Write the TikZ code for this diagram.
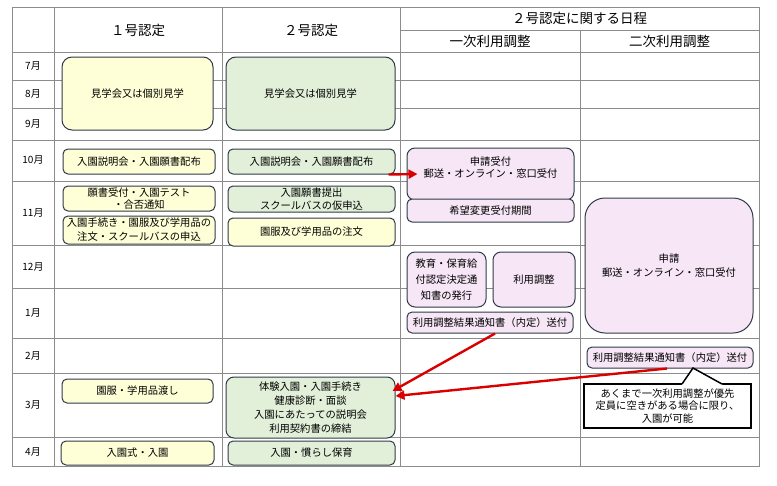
\documentclass[tikz,border=0pt]{standalone}
\usepackage{fontspec}
\setmainfont{Noto Sans CJK JP}
\usetikzlibrary{positioning,arrows.meta}

\definecolor{yel}{RGB}{255,255,215}
\definecolor{grn}{RGB}{226,240,217}
\definecolor{pnk}{RGB}{246,230,246}
\definecolor{edge}{RGB}{47,58,72}
\definecolor{rule}{RGB}{140,140,140}
\definecolor{arr}{RGB}{218,0,0}

\begin{document}
\begin{tikzpicture}[x=1pt, y=-1pt,
	rule/.style={draw=rule, line width=0.8pt},
	box/.style={draw=edge, line width=1pt, rounded corners=5pt, align=center, inner sep=0pt, font=\fontsize{10.3}{14}\selectfont},
	kyu1/.style={box, fill=yel},
	kyu2/.style={box, fill=grn},
	sch/.style={box, fill=pnk},
	month/.style={font=\fontsize{10}{11}\selectfont},
	head/.style={font=\fontsize{13.5}{15}\selectfont},
	flow/.style={draw=arr, line width=2.4pt, -{Triangle[length=9pt,width=9pt]}}]
	\useasboundingbox (0,0) rectangle (777,485);
	
	% table
	\draw[rule] (12,7) rectangle (759,466);
	\foreach \x in {54,222,400} \draw[rule] (\x,7) -- (\x,466);
	\draw[rule] (580,30) -- (580,466);
	\draw[rule] (400,30) -- (759,30);
	\foreach \y in {52,80,108,140,181,245,288,338,373,437} \draw[rule] (12,\y) -- (759,\y);
	
	\node[head](h1) at (138,30){１号認定};
	\node[head](h2) at (311,30){２号認定};
	\node[head](h3) at (579.5,18.5){２号認定に関する日程};
	\node[head](h4) at (490,41){一次利用調整};
	\node[head](h5) at (669.5,41){二次利用調整};
	\foreach \mon/\y in {7/66,8/94,9/124,10/160,11/213,12/266.5,1/313,2/355.5,3/405,4/451.5}
		\node[month](m\mon) at (33,\y){{\mon}月};
	
	% 1号認定
	\node[kyu1, rounded corners=10pt, minimum width=151, minimum height=73](visit1) at (137.5,93.5){見学会又は個別見学};
	\node[kyu1, minimum width=152, minimum height=25](info1) at (139,161.5){入園説明会・入園願書配布};
	\node[kyu1, minimum width=152, minimum height=25, font=\fontsize{10.3}{11.5}\selectfont](apply1) at (139,198.5){願書受付・入園テスト\\・合否通知};
	\node[kyu1, minimum width=152, minimum height=28](proc1) at (139,230){入園手続き・園服及び学用品の\\注文・スクールバスの申込};
	\node[kyu1, minimum width=151, minimum height=24](uniform1) at (137.5,391){園服・学用品渡し};
	\node[kyu1, minimum width=153, minimum height=24](enter1) at (137.5,453){入園式・入園};
	
	% 2号認定
	\node[kyu2, rounded corners=10pt, minimum width=169, minimum height=73](visit2) at (310.5,93.5){見学会又は個別見学};
	\node[kyu2, minimum width=167, minimum height=25](info2) at (311.5,161.5){入園説明会・入園願書配布};
	\node[kyu2, minimum width=167, minimum height=26, font=\fontsize{10.3}{13}\selectfont](apply2) at (311.5,199){入園願書提出\\スクールバスの仮申込};
	\node[kyu1, minimum width=167, minimum height=28](order2) at (311.5,232){園服及び学用品の注文};
	\node[kyu2, rounded corners=8pt, minimum width=169, minimum height=61](trial2) at (310.5,407.5){体験入園・入園手続き\\健康診断・面談\\入園にあたっての説明会\\利用契約書の締結};
	\node[kyu2, minimum width=167, minimum height=24](enter2) at (311.5,453){入園・慣らし保育};
	
	% 一次利用調整
	\node[sch, rounded corners=8pt, minimum width=167, minimum height=52](recv) at (490.5,174){};
	\node[align=center, inner sep=0pt, font=\fontsize{10.3}{11.7}\selectfont](recvtext) at ([yshift=6.5pt]recv.center){申請受付\\郵送・オンライン・窓口受付};
	\node[sch, minimum width=167, minimum height=23, below=-2pt of recv](change){希望変更受付期間};
	\node[sch, rounded corners=8pt, minimum width=79, minimum height=55, font=\fontsize{10.3}{16}\selectfont](cert) at (446.5,279.5){教育・保育給\\付認定決定通\\知書の発行};
	\node[sch, rounded corners=8pt, minimum width=82, minimum height=55, right=6pt of cert](adjust){利用調整};
	\node[sch, minimum width=166, minimum height=21](notice1) at (490,322.5){利用調整結果通知書（内定）送付};
	
	% 二次利用調整
	\node[sch, rounded corners=20pt, minimum width=168, minimum height=135](second) at (669,265.5){申請\\郵送・オンライン・窓口受付};
	\node[sch, minimum width=166, minimum height=21](notice2) at (670,357.5){利用調整結果通知書（内定）送付};
	\node[draw=black, fill=white, line width=1.5pt, minimum width=167, minimum height=44, inner sep=0pt, align=center, font=\fontsize{10.3}{12.5}\selectfont](note) at (667.5,406){あくまで一次利用調整が優先\\定員に空きがある場合に限り、\\入園が可能};
	\fill[white] (682,385) -- (682,384) -- (693,368) -- (722,384) -- (722,385) -- cycle;
	\draw[black, line width=1.5pt, line join=miter] (682,384) -- (693,368) -- (722,384);
	
	\draw[flow] ([xshift=-7pt]info2.south east) -- ([xshift=11pt]recv.west);
	\draw[flow] ([xshift=5pt]notice1.south) -- ([xshift=-3pt, yshift=16.5pt]trial2.east);
	\draw[flow] ([xshift=-3pt]notice2.south) -- ([yshift=11.5pt]trial2.east);
\end{tikzpicture}
\end{document}
